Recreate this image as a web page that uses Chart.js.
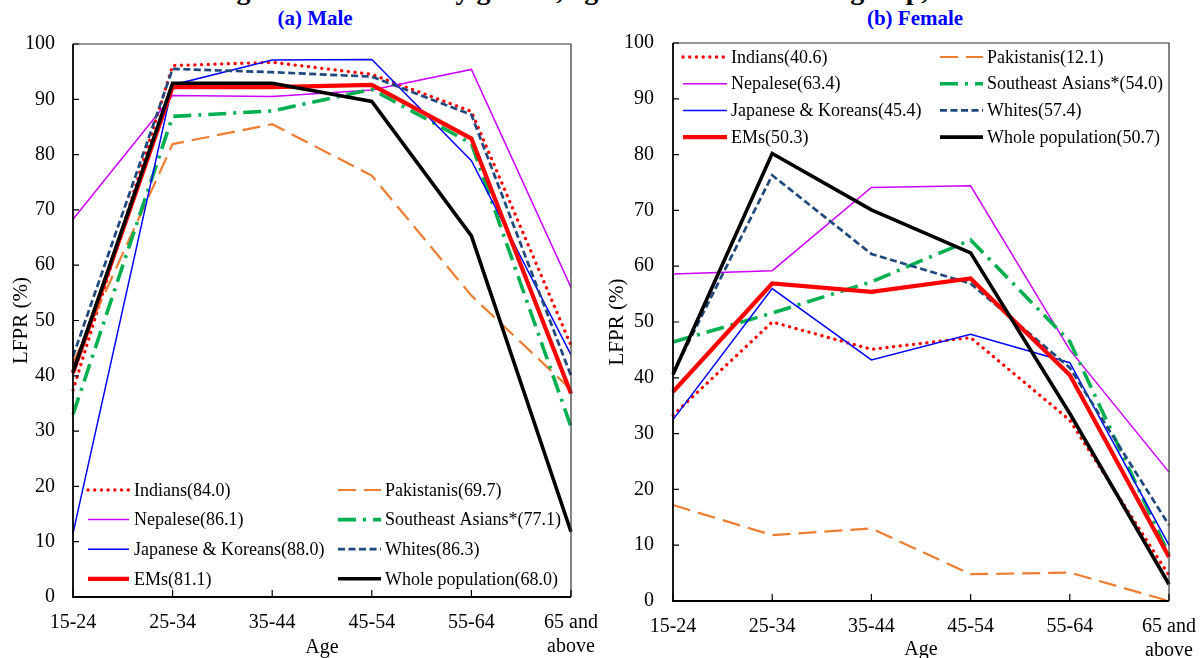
<!DOCTYPE html>
<html>
<head>
<meta charset="utf-8">
<script src="https://cdn.jsdelivr.net/npm/chart.js@4.4.1/dist/chart.umd.min.js"></script>
<style>
html,body{margin:0;padding:0;background:#fff;width:1203px;height:658px;overflow:hidden}
#wrap{position:relative;width:1203px;height:658px}
.fig{position:absolute;top:-24px;left:0;width:1203px;text-align:center;font:bold 28px "Liberation Serif";line-height:28px;white-space:nowrap}
.sub{position:absolute;top:6px;transform:translateX(-50%);font:bold 21px "Liberation Serif";color:#0000ff;line-height:24px;white-space:nowrap}
canvas{position:absolute;top:0}
</style>
</head>
<body>
<div id="wrap">
  <div class="fig">Figure 4.2: LFPRs by gender, age and selected ethnic group, 2021</div>
  <div class="sub" style="left:315px">(a) Male</div>
  <div class="sub" style="left:915px">(b) Female</div>
  <canvas id="chartMale" width="600" height="658" style="left:0"></canvas>
  <canvas id="chartFemale" width="603" height="658" style="left:600px"></canvas>
</div>
<script>
var ageLabels=["15-24","25-34","35-44","45-54","55-64",["65 and","above"]];
var groupNames=["Indians","Pakistanis","Nepalese","Southeast Asians*","Japanese & Koreans","Whites","EMs","Whole population"];
var overallMale=["84.0","69.7","86.1","77.1","88.0","86.3","81.1","68.0"];
var overallFemale=["40.6","12.1","63.4","54.0","45.4","57.4","50.3","50.7"];
var yTicks=[0,10,20,30,40,50,60,70,80,90,100];

// male LFPR (%) by age group
var indiansM=[37.4,96.1,96.7,94.5,87.8,45.5];
var pakistanisM=[42.3,81.9,85.5,76.2,54.5,37.5];
var nepaleseM=[68.3,90.7,90.5,91.7,95.4,56.0];
var seAsiansM=[33.0,86.9,87.9,91.8,82.0,30.8];
var jkM=[11.5,92.6,97.1,97.2,78.9,43.8];
var whitesM=[43.5,95.5,94.9,94.1,87.2,40.0];
var emsM=[40.5,92.2,92.2,92.6,82.9,36.8];
var wholeM=[40.7,92.9,92.9,89.6,65.3,11.8];

// female LFPR (%) by age group
var indiansF=[33.3,50.0,45.1,47.2,32.4,4.6];
var pakistanisF=[17.2,11.8,13.0,4.8,5.1,0];
var nepaleseF=[58.6,59.2,74.1,74.4,45.0,23.1];
var seAsiansF=[46.4,51.6,57.2,64.7,46.5,8.3];
var jkF=[32.5,56.0,43.2,47.8,42.7,10.0];
var whitesF=[40.8,76.3,62.2,56.9,41.8,13.6];
var emsF=[37.5,56.9,55.4,57.8,40.5,7.9];
var wholeF=[40.6,80.2,70.1,62.4,33.6,3.0];

var F="Liberation Serif";
var lineColors=["#ff0000","#ed7d31","#cc00ff","#00b050","#0000ff","#1f497d","#ff0000","#000000"];
var lineWidths=[3.3,2.2,1.5,3.6,1.5,2.7,4.2,3.6];
var lineDashes=[[0.1,6.6],[18,8],[],[18,7,3,7],[],[7,3.5],[],[]];
var lineCaps=["round","butt","butt","butt","butt","butt","butt","butt"];

function makeDatasets(rows,overall){
  return rows.map(function(vals,i){
    return {label:groupNames[i]+"("+overall[i]+")",data:vals,borderColor:lineColors[i],backgroundColor:lineColors[i],
      borderWidth:lineWidths[i],borderDash:lineDashes[i],borderCapStyle:lineCaps[i],borderJoinStyle:"miter",
      pointRadius:0,pointHoverRadius:0,tension:0,fill:false,order:rows.length-i};
  });
}

// frame, inner tick marks and a two column legend
var framePlugin={
  id:"frameLegend",
  afterDraw:function(chart,args,o){
    var ctx=chart.ctx,a=chart.chartArea,xs=chart.scales.x,ys=chart.scales.y;
    ctx.save();
    ctx.setLineDash([]);
    ctx.strokeStyle="#333";ctx.lineWidth=1.2;
    ctx.beginPath();ctx.moveTo(a.left,a.top);ctx.lineTo(a.right,a.top);ctx.lineTo(a.right,a.bottom);ctx.stroke();
    ctx.strokeStyle="#000";ctx.lineWidth=1.8;
    ctx.beginPath();ctx.moveTo(a.left,a.top);ctx.lineTo(a.left,a.bottom);ctx.lineTo(a.right,a.bottom);ctx.stroke();
    ctx.lineWidth=1.2;
    ctx.beginPath();
    ys.ticks.forEach(function(t,i){var y=ys.getPixelForTick(i);ctx.moveTo(a.left,y);ctx.lineTo(a.left+6,y);});
    xs.ticks.forEach(function(t,i){var x=xs.getPixelForTick(i);ctx.moveTo(x,a.bottom);ctx.lineTo(x,a.bottom-7);});
    ctx.stroke();
    ctx.font="18px '"+F+"'";ctx.textBaseline="middle";ctx.fillStyle="#000";
    chart.data.datasets.forEach(function(ds,i){
      var c=o.cols[i%2],y=o.rowY+Math.floor(i/2)*o.rowGap;
      ctx.save();
      ctx.strokeStyle=ds.borderColor;ctx.lineWidth=ds.borderWidth;ctx.lineCap=ds.borderCapStyle;
      ctx.setLineDash(ds.borderDash);
      ctx.beginPath();ctx.moveTo(c.x0,y);ctx.lineTo(c.x1,y);ctx.stroke();
      ctx.restore();
      ctx.fillText(ds.label,c.tx,y+1);
    });
    ctx.restore();
  }
};

function makeChart(id,rows,overall,s){
  return new Chart(document.getElementById(id).getContext("2d"),{
    type:"line",
    data:{labels:ageLabels,datasets:makeDatasets(rows,overall)},
    options:{
      responsive:false,animation:false,devicePixelRatio:1,
      layout:{padding:{left:0,right:s.padRight,top:s.padTop,bottom:0}},
      plugins:{legend:{display:false},tooltip:{enabled:false},frameLegend:s.legend},
      scales:{
        // tick marks are hidden; tickLength only pushes the labels down
        x:{type:"category",offset:false,grid:{display:false,drawTicks:true,tickLength:14},border:{display:false},
          ticks:{font:{family:F,size:20},color:"#000",padding:0,maxRotation:0,autoSkip:false},
          title:{display:true,text:"Age",font:{family:F,size:20},color:"#000",padding:{top:0,bottom:s.ageBottom}},
          afterFit:function(sc){sc.height=s.xHeight}},
        y:{min:0,max:100,afterBuildTicks:function(sc){sc.ticks=yTicks.map(function(v){return {value:v}})},
          grid:{display:false,drawTicks:false},border:{display:false},
          ticks:{font:{family:F,size:20},color:"#000",padding:s.yPad},
          title:{display:true,text:"LFPR (%)",font:{family:F,size:21},color:"#000",padding:{top:s.yTitlePad,bottom:0}},
          afterFit:function(sc){sc.width=73}}
      }
    },
    plugins:[framePlugin]
  });
}

makeChart("chartMale",[indiansM,pakistanisM,nepaleseM,seAsiansM,jkM,whitesM,emsM,wholeM],overallMale,{
  padRight:29,padTop:44,xHeight:61,ageBottom:-2,yPad:18,yTitlePad:8.4,
  legend:{cols:[{x0:88,x1:129,tx:134},{x0:338,x1:381,tx:385}],rowY:490,rowGap:29.6}
});
makeChart("chartFemale",[indiansF,pakistanisF,nepaleseF,seAsiansF,jkF,whitesF,emsF,wholeF],overallFemale,{
  padRight:34,padTop:43,xHeight:57,ageBottom:-4,yPad:19,yTitlePad:4.4,
  legend:{cols:[{x0:83,x1:127,tx:131},{x0:340,x1:383,tx:387}],rowY:57,rowGap:26.7}
});
</script>
</body>
</html>
